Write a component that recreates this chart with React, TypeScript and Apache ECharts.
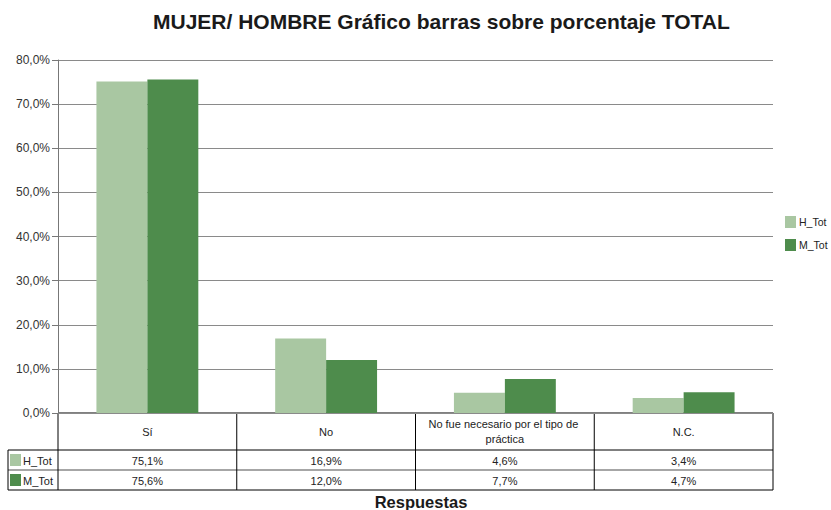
import React, { useEffect, useRef } from "react";
import * as echarts from "echarts";

const categories = ["Sí", "No", "No fue necesario por el tipo de práctica", "N.C."];
const seriesNames = ["H_Tot", "M_Tot"];
const hTot = [75.1, 16.9, 4.6, 3.4];
const mTot = [75.6, 12.0, 7.7, 4.7];
const yTicks = [0, 10, 20, 30, 40, 50, 60, 70, 80];
const colors = ["#A9C7A2", "#4E8C4C"];
const titleText = "MUJER/ HOMBRE Gráfico barras sobre porcentaje TOTAL";
const axisTitle = "Respuestas";

const fmt = (v: number) => v.toFixed(1).replace(".", ",") + "%";

export default function App() {
  const ref = useRef<HTMLDivElement>(null);
  useEffect(() => {
    if (!ref.current) return;
    const chart = echarts.init(ref.current, null, { renderer: "svg" });
    const gL = 58, gR = 773, gT = 60, gB = 413;
    const rowCatB = 450, rowHB = 470, rowMB = 490;
    const legL = 8;
    const colW = (gR - gL) / categories.length;
    const font = "Liberation Sans, Arial, sans-serif";
    const gfx: any[] = [];
    gfx.push({ type: "line", shape: { x1: gL, y1: gB, x2: gR, y2: gB }, style: { stroke: "#000", lineWidth: 1 } });
    gfx.push({ type: "line", shape: { x1: legL, y1: rowCatB, x2: gR, y2: rowCatB }, style: { stroke: "#000", lineWidth: 1 } });
    gfx.push({ type: "line", shape: { x1: legL, y1: rowHB, x2: gR, y2: rowHB }, style: { stroke: "#888", lineWidth: 1.5 } });
    gfx.push({ type: "line", shape: { x1: legL, y1: rowMB, x2: gR, y2: rowMB }, style: { stroke: "#000", lineWidth: 1 } });
    gfx.push({ type: "line", shape: { x1: legL, y1: rowCatB, x2: legL, y2: rowMB }, style: { stroke: "#000", lineWidth: 1 } });
    for (let i = 0; i <= categories.length; i++) {
      const x = gL + i * colW;
      gfx.push({ type: "line", shape: { x1: x, y1: gB, x2: x, y2: rowMB }, style: { stroke: "#000", lineWidth: 1 } });
    }
    categories.forEach((c, i) => {
      const cx = gL + (i + 0.5) * colW;
      gfx.push({
        type: "text", x: cx, y: (gB + rowCatB) / 2,
        style: { text: c, font: `11px ${font}`, fill: "#222", align: "center", verticalAlign: "middle", width: 170, overflow: "break", lineHeight: 15 },
      });
      gfx.push({
        type: "text", x: cx, y: (rowCatB + rowHB) / 2 + 1,
        style: { text: fmt(hTot[i]), font: `11px ${font}`, fill: "#222", align: "center", verticalAlign: "middle" },
      });
      gfx.push({
        type: "text", x: cx, y: (rowHB + rowMB) / 2 + 1,
        style: { text: fmt(mTot[i]), font: `11px ${font}`, fill: "#222", align: "center", verticalAlign: "middle" },
      });
    });
    seriesNames.forEach((n, i) => {
      const yc = i === 0 ? (rowCatB + rowHB) / 2 : (rowHB + rowMB) / 2;
      gfx.push({ type: "rect", shape: { x: 10, y: yc - 6, width: 11, height: 12 }, style: { fill: colors[i] } });
      gfx.push({ type: "text", x: 23, y: yc + 1, style: { text: n, font: `11px ${font}`, fill: "#222", align: "left", verticalAlign: "middle" } });
    });
    gfx.push({
      type: "text", x: 421, y: 502,
      style: { text: axisTitle, font: `bold 16.5px ${font}`, fill: "#1a1a1a", align: "center", verticalAlign: "middle" },
    });

    chart.setOption({
      animation: false,
      backgroundColor: "#fff",
      title: {
        text: titleText, left: 148, top: 6,
        textStyle: { fontFamily: font, fontSize: 21, fontWeight: "bold", color: "#1a1a1a" },
      },
      legend: {
        orient: "vertical", left: 785, top: 216, padding: 0, itemWidth: 11, itemHeight: 12, itemGap: 11,
        icon: "rect", data: seriesNames,
        textStyle: { fontFamily: font, fontSize: 10.5, color: "#222", padding: [0, 0, 0, -2] },
      },
      grid: { left: gL, top: gT, width: gR - gL, height: gB - gT },
      xAxis: {
        type: "category", data: categories,
        axisLine: { show: false }, axisTick: { show: false }, axisLabel: { show: false },
      },
      yAxis: {
        type: "value", min: yTicks[0], max: yTicks[yTicks.length - 1], interval: 10,
        axisLine: { show: true, lineStyle: { color: "#777", width: 1 } },
        axisTick: { show: true, length: 6, lineStyle: { color: "#777" } },
        axisLabel: { formatter: (v: number) => fmt(v), fontFamily: font, fontSize: 12, color: "#333", margin: 8 },
        splitLine: { show: true, lineStyle: { color: "#8a8a8a", width: 1 } },
      },
      series: [
        { name: seriesNames[0], type: "bar", data: hTot, itemStyle: { color: colors[0] }, barGap: "0%", barCategoryGap: "43%" },
        { name: seriesNames[1], type: "bar", data: mTot, itemStyle: { color: colors[1] }, barGap: "0%", barCategoryGap: "43%" },
      ],
      graphic: gfx,
    });
    return () => chart.dispose();
  }, []);
  return <div ref={ref} style={{ width: 831, height: 510, position: "absolute", left: 0, top: 0 }} />;
}
